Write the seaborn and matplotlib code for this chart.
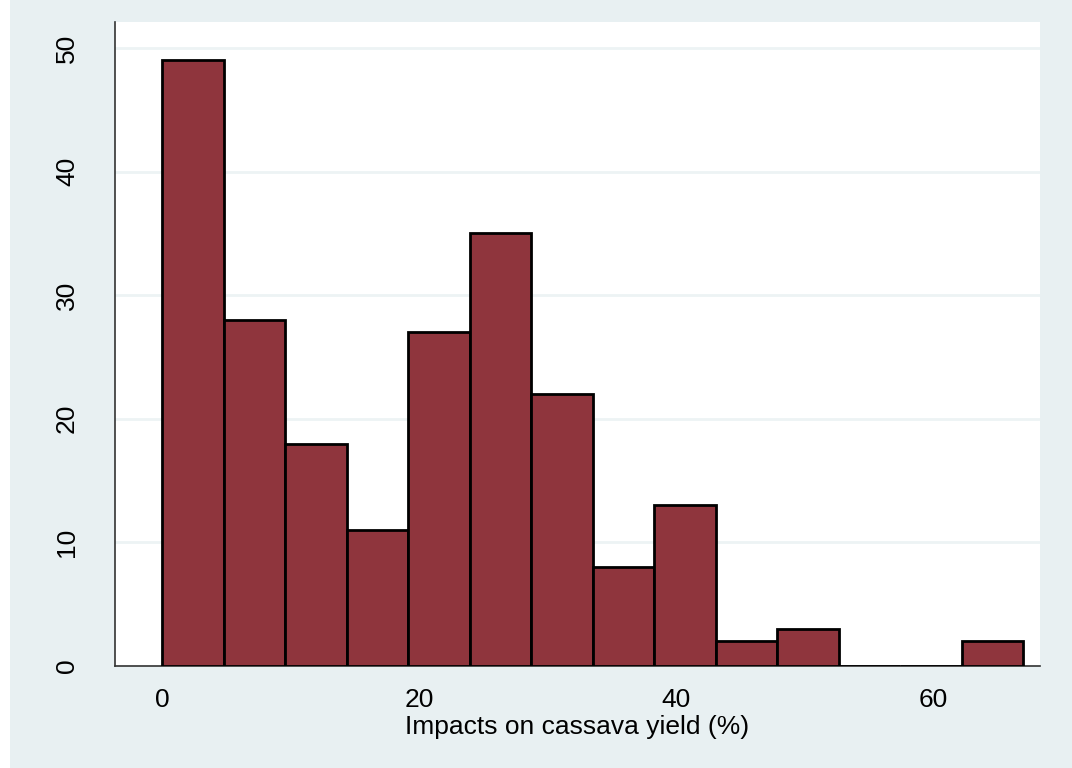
import numpy as np
import pandas as pd
import seaborn as sns
import matplotlib.pyplot as plt
from matplotlib.patches import Rectangle

# histogram bins (14 bins from 0 to ~67)
bin_start = 0.0
bin_end = 67.0
counts = [49, 28, 18, 11, 27, 35, 22, 8, 13, 2, 3, 0, 0, 2]
x_ticks = [0, 20, 40, 60]
y_ticks = [0, 10, 20, 30, 40, 50]
x_label = 'Impacts on cassava yield (%)'

edges = np.linspace(bin_start, bin_end, len(counts) + 1)
centers = (edges[:-1] + edges[1:]) / 2
df = pd.DataFrame({'impact': centers, 'n': counts})

bg = '#E8F0F2'
bar_col = '#8F353D'

sns.set_style('white')
plt.rcParams['font.family'] = ['Liberation Sans', 'DejaVu Sans']

fig = plt.figure(figsize=(10.72, 7.68), dpi=100)
fig.patch.set_facecolor(bg)
# white strip at the left edge of the image
fig.patches.append(Rectangle((0, 0), 10 / 1072, 1, transform=fig.transFigure,
                             facecolor='white', edgecolor='none', zorder=-1))
ax = fig.add_axes([115 / 1072, 1 - 666 / 768, (1040 - 115) / 1072, (666 - 22) / 768])
ax.set_facecolor('white')

sns.histplot(data=df, x='impact', weights='n', bins=list(edges), ax=ax,
             color=bar_col, alpha=1, edgecolor='black', linewidth=2.0, zorder=3)

ax.set_xlim(-3.66, 68.3)
ax.set_ylim(0, 52.1)
ax.set_xticks(x_ticks)
ax.set_yticks(y_ticks)
ax.yaxis.grid(True, color='#EDF3F4', linewidth=2, zorder=0)
ax.set_axisbelow(True)

for s in ['top', 'right']:
    ax.spines[s].set_visible(False)
for s in ['left', 'bottom']:
    ax.spines[s].set_color('#333333')
    ax.spines[s].set_linewidth(1.2)

ax.tick_params(axis='both', direction='out', length=7, width=1, color='#333333',
               labelsize=19, labelcolor='black')
ax.tick_params(axis='x', pad=9)
ax.tick_params(axis='y', pad=19)
for lab in ax.get_yticklabels():
    lab.set_rotation(90)
    lab.set_va('center')

ax.set_xlabel(x_label, fontsize=19, labelpad=2, color='black')
ax.set_ylabel('')

fig.savefig('out.png', dpi=100, facecolor=fig.get_facecolor())
